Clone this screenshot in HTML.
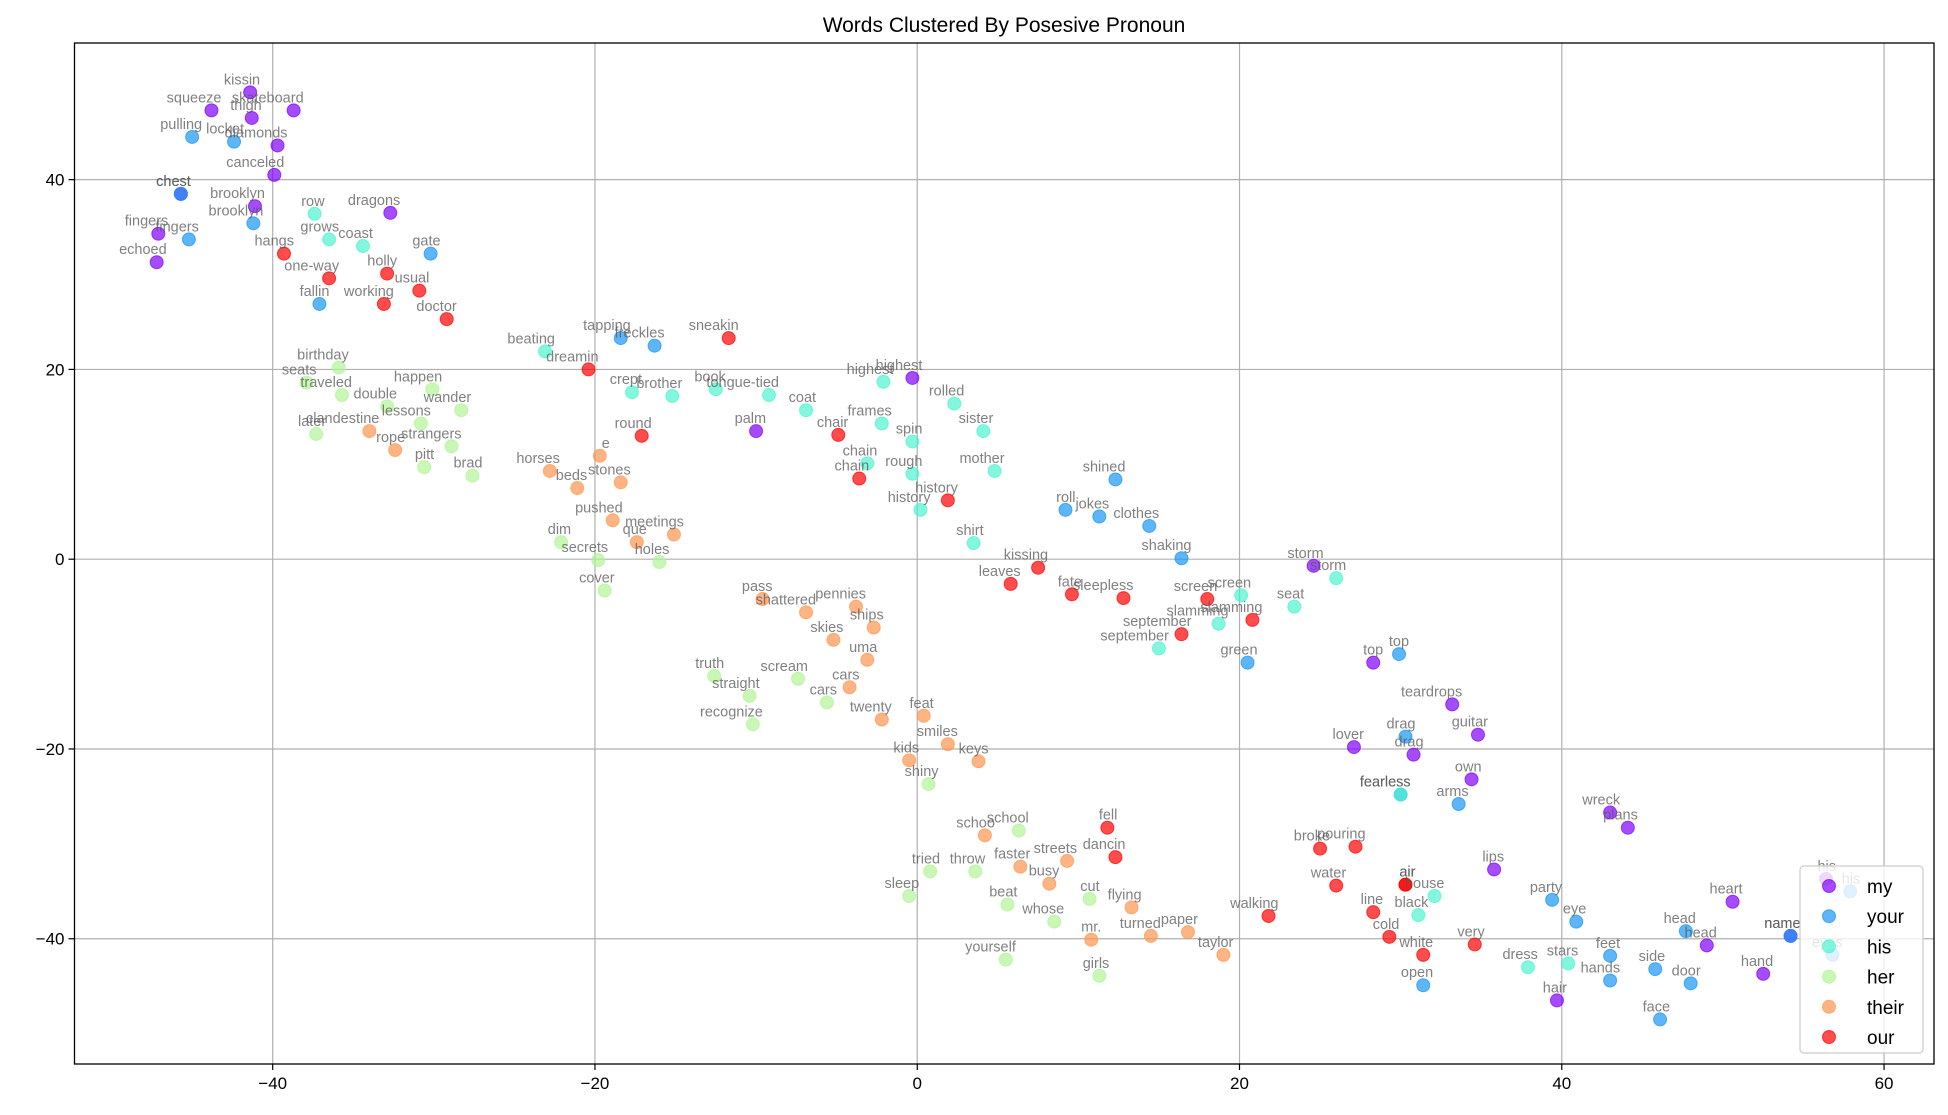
<!DOCTYPE html>
<html><head><meta charset="utf-8"><style>
html,body{margin:0;padding:0;background:#fff;}
svg{display:block;font-family:"Liberation Sans","DejaVu Sans",sans-serif;}
</style></head><body>
<svg id="chart" width="1948" height="1115" viewBox="0 0 1948 1115" xmlns="http://www.w3.org/2000/svg">
<rect x="0" y="0" width="1948" height="1115" fill="#fff"/>
<text x="1004" y="32" text-anchor="middle" font-size="21" fill="#000">Words Clustered By Posesive Pronoun</text>
<g id="grid"></g>
<g id="points"></g>
<g id="labels"></g>
<g id="axes"></g>
<g id="legend"></g>
</svg>
<script>
const xTicks = [-40, -20, 0, 20, 40, 60];
const yTicks = [-40, -20, 0, 20, 40];
const seriesNames = ["my", "your", "his", "her", "their", "our"];
const seriesColors = ["#8000ff", "#1996f3", "#4df3ce", "#b2f396", "#ff964f", "#ff0000"];

const myWords = ["kissin","skateboard","squeeze","thigh","diamonds","canceled","brooklyn","dragons","fingers","echoed","highest","palm","storm","top","teardrops","lover","drag","guitar","own","wreck","plans","lips","heart","head","hand","hair","his","chest","name"];
const myX = [-41.4,-38.7,-43.8,-41.3,-39.7,-39.9,-41.1,-32.7,-47.1,-47.2,-0.3,-10.0,24.6,28.3,33.2,27.1,30.8,34.8,34.4,43.0,44.1,35.8,50.6,49.0,52.5,39.7,56.4,-45.7,54.2];
const myY = [49.2,47.3,47.3,46.5,43.6,40.5,37.2,36.5,34.3,31.3,19.1,13.5,-0.7,-10.9,-15.3,-19.8,-20.6,-18.5,-23.2,-26.7,-28.3,-32.7,-36.1,-40.7,-43.7,-46.5,-33.7,38.5,-39.7];

const yourWords = ["pulling","locket","chest","brooklyn","fingers","gate","fallin","tapping","freckles","shined","roll","jokes","clothes","shaking","top","green","drag","fearless","arms","party","eye","head","name","side","door","feet","hands","open","face","his","eyes"];
const yourX = [-45.0,-42.4,-45.7,-41.2,-45.2,-30.2,-37.1,-18.4,-16.3,12.3,9.2,11.3,14.4,16.4,29.9,20.5,30.3,30.0,33.6,39.4,40.9,47.7,54.2,45.8,48.0,43.0,43.0,31.4,46.1,57.9,56.8];
const yourY = [44.5,44.0,38.5,35.4,33.7,32.2,26.9,23.3,22.5,8.4,5.2,4.5,3.5,0.1,-10.0,-10.9,-18.7,-24.8,-25.8,-35.9,-38.2,-39.2,-39.7,-43.2,-44.7,-41.8,-44.4,-44.9,-48.5,-35.0,-41.7];

const hisWords = ["row","grows","coast","beating","crept","brother","book","tongue-tied","coat","highest","frames","spin","rolled","sister","chain","rough","history","mother","shirt","storm","screen","seat","slamming","september","house","black","dress","stars","fearless"];
const hisX = [-37.4,-36.5,-34.4,-23.1,-17.7,-15.2,-12.5,-9.2,-6.9,-2.1,-2.2,-0.3,2.3,4.1,-3.1,-0.3,0.2,4.8,3.5,26.0,20.1,23.4,18.7,15.0,32.1,31.1,37.9,40.4,30.0];
const hisY = [36.4,33.7,33.0,21.9,17.6,17.2,17.9,17.3,15.7,18.7,14.3,12.4,16.4,13.5,10.1,9.0,5.2,9.3,1.7,-2.0,-3.8,-5.0,-6.8,-9.4,-35.5,-37.5,-43.0,-42.6,-24.8];

const herWords = ["birthday","seats","traveled","double","happen","wander","lessons","later","strangers","pitt","brad","dim","secrets","holes","cover","truth","scream","straight","cars","recognize","shiny","school","tried","throw","sleep","cut","beat","whose","yourself","girls"];
const herX = [-35.9,-37.9,-35.7,-32.9,-30.1,-28.3,-30.8,-37.3,-28.9,-30.6,-27.6,-22.1,-19.8,-16.0,-19.4,-12.6,-7.4,-10.4,-5.6,-10.2,0.7,6.3,0.8,3.6,-0.5,10.7,5.6,8.5,5.5,11.3];
const herY = [20.2,18.6,17.3,16.1,17.9,15.7,14.3,13.2,11.9,9.7,8.8,1.8,-0.1,-0.3,-3.3,-12.3,-12.6,-14.4,-15.1,-17.4,-23.7,-28.6,-32.9,-32.9,-35.5,-35.8,-36.4,-38.2,-42.2,-43.9];

const theirWords = ["clandestine","rope","horses","e","beds","stones","pushed","que","meetings","pass","shattered","pennies","ships","skies","uma","cars","twenty","feat","smiles","keys","kids","schoo","faster","streets","busy","flying","mr.","turned","paper","taylor"];
const theirX = [-34.0,-32.4,-22.8,-19.7,-21.1,-18.4,-18.9,-17.4,-15.1,-9.6,-6.9,-3.8,-2.7,-5.2,-3.1,-4.2,-2.2,0.4,1.9,3.8,-0.5,4.2,6.4,9.3,8.2,13.3,10.8,14.5,16.8,19.0];
const theirY = [13.5,11.5,9.3,10.9,7.5,8.1,4.1,1.8,2.6,-4.2,-5.6,-5.0,-7.2,-8.5,-10.6,-13.5,-16.9,-16.5,-19.5,-21.3,-21.2,-29.1,-32.4,-31.8,-34.2,-36.7,-40.1,-39.7,-39.3,-41.7];

const ourWords = ["hangs","one-way","holly","usual","working","doctor","dreamin","sneakin","round","chair","chain","history","kissing","leaves","fate","sleepless","screen","slamming","september","fell","dancin","broke","pouring","water","air","air","line","walking","cold","very","white"];
const ourX = [-39.3,-36.5,-32.9,-30.9,-33.1,-29.2,-20.4,-11.7,-17.1,-4.9,-3.6,1.9,7.5,5.8,9.6,12.8,18.0,20.8,16.4,11.8,12.3,25.0,27.2,26.0,30.3,30.3,28.3,21.8,29.3,34.6,31.4];
const ourY = [32.2,29.6,30.1,28.3,26.9,25.3,20.0,23.3,13.0,13.1,8.5,6.2,-0.9,-2.6,-3.7,-4.1,-4.2,-6.4,-7.9,-28.3,-31.4,-30.5,-30.3,-34.4,-34.3,-34.3,-37.2,-37.6,-39.8,-40.6,-41.7];

const allWords = [myWords, yourWords, hisWords, herWords, theirWords, ourWords];
const allX = [myX, yourX, hisX, herX, theirX, ourX];
const allY = [myY, yourY, hisY, herY, theirY, ourY];

const NS = "http://www.w3.org/2000/svg";
const L = 74.5, R = 1934, T = 43, B = 1064;
const xMin = -52.3, xMax = 63.1, yMin = -53.2, yMax = 54.4;
function sx(v){ return L + (v - xMin) / (xMax - xMin) * (R - L); }
function sy(v){ return B - (v - yMin) / (yMax - yMin) * (B - T); }
function mk(tag, attrs, parent){
  const e = document.createElementNS(NS, tag);
  for (const k in attrs) e.setAttribute(k, attrs[k]);
  parent.appendChild(e);
  return e;
}
const grid = document.getElementById('grid');
const axes = document.getElementById('axes');
xTicks.forEach(t => {
  const g = mk('line', {x1: sx(t), x2: sx(t), y1: T, y2: B, stroke: '#b0b0b0', 'stroke-width': 1.2}, grid);
  
  
  const tk = mk('line', {x1: sx(t), x2: sx(t), y1: B, y2: B + 6, stroke: '#000', 'stroke-width': 1.2}, axes);
  
  
  const tl = mk('text', {x: sx(t), y: B + 25, 'text-anchor': 'middle', 'font-size': 17, fill: '#000'}, axes);
  tl.textContent = (t < 0 ? '\u2212' + Math.abs(t) : String(t));
  
  
});
yTicks.forEach(t => {
  const g = mk('line', {x1: L, x2: R, y1: sy(t), y2: sy(t), stroke: '#b0b0b0', 'stroke-width': 1.2}, grid);
  
  
  const tk = mk('line', {x1: L - 6, x2: L, y1: sy(t), y2: sy(t), stroke: '#000', 'stroke-width': 1.2}, axes);
  
  
  const tl = mk('text', {x: L - 10, y: sy(t) + 6, 'text-anchor': 'end', 'font-size': 17, fill: '#000'}, axes);
  tl.textContent = (t < 0 ? '\u2212' + Math.abs(t) : String(t));
  
  
});
const frame = mk('rect', {x: L, y: T, width: R - L, height: B - T, fill: 'none', stroke: '#000', 'stroke-width': 1.3}, axes);



const pts = document.getElementById('points');
const lbs = document.getElementById('labels');
for (let s = 0; s < seriesNames.length; s++) {
  const words = allWords[s], xs = allX[s], ys = allY[s];
  for (let i = 0; i < words.length; i++) {
    const c = mk('circle', {cx: sx(xs[i]), cy: sy(ys[i]), r: 6.5, fill: seriesColors[s], 'fill-opacity': 0.7, stroke: seriesColors[s], 'stroke-opacity': 0.7, 'stroke-width': 1}, pts);
    
    
  }
}
for (let s = 0; s < seriesNames.length; s++) {
  const words = allWords[s], xs = allX[s], ys = allY[s];
  for (let i = 0; i < words.length; i++) {
    const t = mk('text', {x: sx(xs[i]) + 10, y: sy(ys[i]) - 8, 'text-anchor': 'end', 'font-size': 14.5, fill: '#555', 'fill-opacity': 0.75}, lbs);
    t.textContent = words[i];
    
    
  }
}

const leg = document.getElementById('legend');
const box = mk('rect', {x: 1800, y: 866, width: 123, height: 187, rx: 4, fill: '#fff', 'fill-opacity': 0.8, stroke: '#cccccc', 'stroke-width': 1.2}, leg);


for (let s = 0; s < seriesNames.length; s++) {
  const cy = 886 + s * 30.2;
  const m = mk('circle', {cx: 1829, cy: cy, r: 6.5, fill: seriesColors[s], 'fill-opacity': 0.7, stroke: seriesColors[s], 'stroke-opacity': 0.7, 'stroke-width': 1}, leg);
  
  
  const tx = mk('text', {x: 1867, y: cy + 7, 'font-size': 19, fill: '#000'}, leg);
  tx.textContent = seriesNames[s];
  
  
}
</script>
</body></html>
